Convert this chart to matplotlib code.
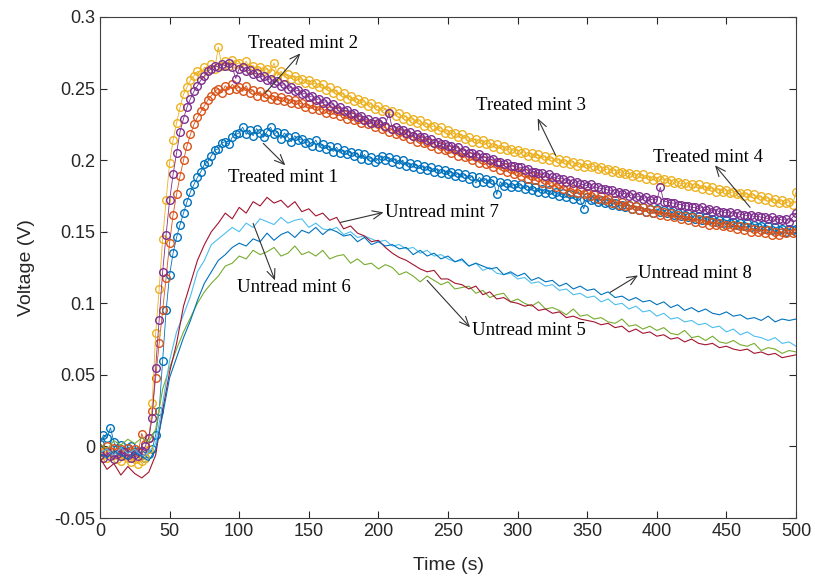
"""Treated vs untreated mint voltage response curves."""

import matplotlib

matplotlib.use("Agg")

import matplotlib.pyplot as plt
import numpy as np
from matplotlib import font_manager

# Treated samples every 2.5 s, untreated every 5 s.
time_treated = np.arange(0, 500.1, 2.5)
time_untreated = np.arange(0, 501, 5)

treated_1 = [
    0.002, 0.008, 0.006, 0.013, 0.003, -0.002, 0.001, -0.003, -0.001, 0.000,
    -0.004, -0.003, -0.006, -0.008, -0.005, -0.002, 0.008, 0.025, 0.060, 0.095,
    0.120, 0.135, 0.146, 0.155, 0.163, 0.171, 0.178, 0.183, 0.188, 0.192,
    0.197, 0.199, 0.203, 0.207, 0.208, 0.212, 0.213, 0.211, 0.216, 0.218,
    0.219, 0.223, 0.218, 0.221, 0.217, 0.222, 0.219, 0.216, 0.220, 0.223,
    0.218, 0.220, 0.215, 0.219, 0.216, 0.213, 0.217, 0.214, 0.215, 0.212,
    0.213, 0.210, 0.214, 0.209, 0.211, 0.208, 0.210, 0.206, 0.209, 0.205,
    0.207, 0.204, 0.206, 0.203, 0.205, 0.201, 0.204, 0.200, 0.202, 0.199,
    0.201, 0.203, 0.200, 0.202, 0.199, 0.201, 0.197, 0.200, 0.196, 0.198,
    0.195, 0.197, 0.194, 0.196, 0.193, 0.195, 0.192, 0.194, 0.191, 0.193,
    0.190, 0.192, 0.189, 0.191, 0.188, 0.190, 0.187, 0.189, 0.184, 0.188,
    0.185, 0.187, 0.184, 0.186, 0.176, 0.185, 0.182, 0.184, 0.181, 0.183,
    0.181, 0.183, 0.180, 0.182, 0.179, 0.181, 0.178, 0.180, 0.177, 0.179,
    0.176, 0.178, 0.175, 0.177, 0.174, 0.176, 0.173, 0.175, 0.172, 0.166,
    0.174, 0.172, 0.173, 0.171, 0.172, 0.170, 0.171, 0.169, 0.170, 0.168,
    0.169, 0.167, 0.169, 0.166, 0.168, 0.165, 0.167, 0.164, 0.166, 0.163,
    0.166, 0.164, 0.165, 0.163, 0.164, 0.162, 0.163, 0.161, 0.162, 0.160,
    0.161, 0.159, 0.161, 0.158, 0.160, 0.158, 0.159, 0.157, 0.158, 0.156,
    0.158, 0.156, 0.157, 0.155, 0.156, 0.154, 0.156, 0.153, 0.155, 0.153,
    0.154, 0.152, 0.154, 0.151, 0.153, 0.151, 0.152, 0.150, 0.152, 0.151,
    0.152,
]
treated_2 = [
    -0.002, -0.004, 0.000, -0.003, -0.001, -0.004, -0.002, -0.005, -0.001, -0.003,
    -0.002, -0.004, 0.009, 0.002, 0.006, 0.025, 0.048, 0.072, 0.095, 0.118,
    0.142, 0.162, 0.176, 0.189, 0.200, 0.210, 0.218, 0.225, 0.230, 0.234,
    0.238, 0.242, 0.245, 0.248, 0.250, 0.247, 0.252, 0.249, 0.253, 0.250,
    0.251, 0.248, 0.252, 0.247, 0.249, 0.245, 0.248, 0.244, 0.246, 0.243,
    0.245, 0.242, 0.244, 0.241, 0.243, 0.240, 0.242, 0.239, 0.240, 0.237,
    0.239, 0.236, 0.238, 0.235, 0.236, 0.233, 0.235, 0.232, 0.234, 0.231,
    0.232, 0.229, 0.231, 0.228, 0.229, 0.226, 0.228, 0.225, 0.226, 0.223,
    0.225, 0.222, 0.223, 0.220, 0.222, 0.218, 0.220, 0.217, 0.218, 0.215,
    0.217, 0.213, 0.215, 0.212, 0.213, 0.210, 0.212, 0.208, 0.210, 0.207,
    0.208, 0.205, 0.207, 0.203, 0.205, 0.202, 0.203, 0.200, 0.202, 0.198,
    0.200, 0.197, 0.198, 0.195, 0.197, 0.193, 0.195, 0.192, 0.194, 0.190,
    0.192, 0.189, 0.191, 0.187, 0.189, 0.186, 0.188, 0.184, 0.186, 0.183,
    0.185, 0.181, 0.183, 0.180, 0.182, 0.178, 0.180, 0.177, 0.179, 0.176,
    0.177, 0.175, 0.176, 0.173, 0.175, 0.172, 0.173, 0.170, 0.172, 0.169,
    0.171, 0.168, 0.169, 0.166, 0.168, 0.165, 0.167, 0.164, 0.166, 0.163,
    0.165, 0.162, 0.164, 0.161, 0.163, 0.160, 0.162, 0.159, 0.161, 0.158,
    0.160, 0.157, 0.159, 0.156, 0.158, 0.155, 0.157, 0.155, 0.156, 0.154,
    0.155, 0.153, 0.155, 0.152, 0.154, 0.151, 0.153, 0.150, 0.152, 0.150,
    0.151, 0.149, 0.151, 0.148, 0.150, 0.148, 0.150, 0.149, 0.151, 0.149,
    0.150,
]
treated_3 = [
    -0.004, -0.006, -0.008, -0.005, -0.006, -0.009, -0.010, -0.007, -0.008, -0.011,
    -0.009, -0.012, -0.010, -0.008, -0.002, 0.030, 0.079, 0.110, 0.145, 0.172,
    0.198, 0.214, 0.226, 0.237, 0.246, 0.251, 0.256, 0.259, 0.262, 0.260,
    0.265, 0.263, 0.267, 0.264, 0.279, 0.266, 0.269, 0.266, 0.270, 0.267,
    0.268, 0.265, 0.269, 0.264, 0.266, 0.263, 0.265, 0.262, 0.264, 0.261,
    0.268, 0.259, 0.262, 0.258, 0.260, 0.257, 0.259, 0.256, 0.257, 0.254,
    0.256, 0.253, 0.254, 0.251, 0.253, 0.249, 0.251, 0.247, 0.249, 0.245,
    0.247, 0.243, 0.245, 0.241, 0.243, 0.240, 0.241, 0.238, 0.240, 0.236,
    0.238, 0.234, 0.236, 0.233, 0.234, 0.231, 0.233, 0.229, 0.231, 0.227,
    0.229, 0.226, 0.228, 0.224, 0.226, 0.223, 0.224, 0.221, 0.223, 0.219,
    0.221, 0.218, 0.219, 0.216, 0.218, 0.215, 0.216, 0.213, 0.215, 0.212,
    0.214, 0.211, 0.212, 0.209, 0.211, 0.208, 0.210, 0.207, 0.208, 0.206,
    0.207, 0.205, 0.206, 0.203, 0.205, 0.202, 0.204, 0.201, 0.203, 0.200,
    0.202, 0.199, 0.201, 0.198, 0.200, 0.197, 0.199, 0.196, 0.198, 0.195,
    0.197, 0.195, 0.196, 0.194, 0.195, 0.193, 0.194, 0.192, 0.193, 0.191,
    0.192, 0.190, 0.191, 0.189, 0.190, 0.188, 0.190, 0.187, 0.189, 0.186,
    0.188, 0.186, 0.187, 0.185, 0.186, 0.184, 0.185, 0.183, 0.184, 0.182,
    0.183, 0.181, 0.183, 0.180, 0.182, 0.179, 0.181, 0.178, 0.180, 0.178,
    0.179, 0.177, 0.178, 0.176, 0.177, 0.175, 0.177, 0.174, 0.176, 0.173,
    0.175, 0.172, 0.174, 0.171, 0.173, 0.170, 0.172, 0.170, 0.171, 0.169,
    0.178,
]
treated_4 = [
    -0.006, -0.008, -0.004, -0.007, -0.009, -0.005, -0.007, -0.004, -0.006, -0.008,
    -0.005, -0.007, -0.003, 0.000, 0.006, 0.020, 0.055, 0.088, 0.122, 0.148,
    0.172, 0.190, 0.205, 0.220, 0.229, 0.237, 0.243, 0.248, 0.252, 0.256,
    0.259, 0.262, 0.264, 0.266, 0.265, 0.267, 0.266, 0.268, 0.265, 0.257,
    0.264, 0.265, 0.262, 0.263, 0.260, 0.261, 0.258, 0.259, 0.256, 0.257,
    0.254, 0.255, 0.252, 0.253, 0.250, 0.251, 0.248, 0.249, 0.246, 0.247,
    0.244, 0.245, 0.242, 0.243, 0.240, 0.241, 0.238, 0.239, 0.236, 0.237,
    0.234, 0.235, 0.232, 0.233, 0.230, 0.231, 0.228, 0.229, 0.226, 0.227,
    0.226, 0.227, 0.224, 0.233, 0.222, 0.223, 0.221, 0.221, 0.219, 0.220,
    0.217, 0.218, 0.216, 0.216, 0.214, 0.215, 0.212, 0.213, 0.211, 0.211,
    0.210, 0.210, 0.208, 0.209, 0.206, 0.207, 0.205, 0.205, 0.203, 0.204,
    0.202, 0.202, 0.200, 0.201, 0.199, 0.199, 0.197, 0.198, 0.196, 0.196,
    0.195, 0.195, 0.193, 0.194, 0.192, 0.192, 0.191, 0.191, 0.189, 0.190,
    0.188, 0.188, 0.187, 0.187, 0.185, 0.186, 0.184, 0.185, 0.183, 0.183,
    0.182, 0.183, 0.181, 0.181, 0.180, 0.180, 0.179, 0.179, 0.177, 0.178,
    0.176, 0.177, 0.175, 0.176, 0.174, 0.175, 0.173, 0.174, 0.172, 0.173,
    0.172, 0.181, 0.171, 0.171, 0.170, 0.170, 0.169, 0.169, 0.168, 0.168,
    0.167, 0.167, 0.166, 0.167, 0.165, 0.166, 0.164, 0.165, 0.164, 0.164,
    0.163, 0.164, 0.162, 0.163, 0.162, 0.162, 0.161, 0.162, 0.160, 0.161,
    0.160, 0.160, 0.159, 0.160, 0.158, 0.159, 0.158, 0.159, 0.157, 0.160,
    0.163,
]
untreated_5 = [
    0.002, -0.002, 0.004, 0.001, 0.005, 0.002, 0.006, 0.003, 0.012, 0.040,
    0.055, 0.068, 0.080, 0.090, 0.100, 0.108, 0.114, 0.119, 0.126, 0.128,
    0.133, 0.131, 0.137, 0.134, 0.136, 0.139, 0.133, 0.135, 0.140, 0.134,
    0.136, 0.133, 0.137, 0.131, 0.133, 0.134, 0.128, 0.131, 0.127, 0.128,
    0.124, 0.127, 0.125, 0.120, 0.122, 0.119, 0.115, 0.119, 0.116, 0.113,
    0.115, 0.110, 0.111, 0.112, 0.107, 0.109, 0.104, 0.106, 0.107, 0.101,
    0.103, 0.100, 0.098, 0.101, 0.096, 0.097, 0.095, 0.092, 0.096, 0.091,
    0.092, 0.089, 0.090, 0.087, 0.086, 0.089, 0.084, 0.085, 0.082, 0.084,
    0.081, 0.083, 0.079, 0.078, 0.081, 0.076, 0.077, 0.074, 0.077, 0.073,
    0.072, 0.074, 0.071, 0.070, 0.072, 0.067, 0.069, 0.068, 0.065, 0.067,
    0.066,
]
untreated_6 = [
    -0.004, -0.002, -0.006, -0.001, -0.005, -0.002, -0.007, -0.004, 0.002, 0.030,
    0.060, 0.080, 0.092, 0.105, 0.122, 0.130, 0.141, 0.145, 0.149, 0.153,
    0.150, 0.156, 0.153, 0.159, 0.157, 0.155, 0.160, 0.156, 0.158, 0.159,
    0.153, 0.156, 0.152, 0.151, 0.153, 0.148, 0.150, 0.146, 0.147, 0.145,
    0.143, 0.144, 0.140, 0.141, 0.138, 0.139, 0.135, 0.137, 0.133, 0.134,
    0.131, 0.129, 0.130, 0.126, 0.128, 0.123, 0.125, 0.121, 0.120, 0.121,
    0.117, 0.118, 0.114, 0.115, 0.112, 0.113, 0.109, 0.110, 0.106, 0.107,
    0.104, 0.105, 0.101, 0.103, 0.099, 0.100, 0.096, 0.098, 0.094, 0.095,
    0.091, 0.093, 0.089, 0.090, 0.087, 0.088, 0.085, 0.086, 0.083, 0.084,
    0.080, 0.082, 0.078, 0.080, 0.077, 0.076, 0.074, 0.076, 0.072, 0.073,
    0.070,
]
untreated_7 = [
    -0.008, -0.016, -0.012, -0.020, -0.014, -0.019, -0.022, -0.018, -0.006, 0.025,
    0.052, 0.072, 0.098, 0.114, 0.130, 0.141, 0.150, 0.156, 0.163, 0.159,
    0.167, 0.163, 0.171, 0.168, 0.174, 0.170, 0.172, 0.167, 0.171, 0.164,
    0.166, 0.161, 0.163, 0.158, 0.160, 0.152, 0.154, 0.149, 0.147, 0.143,
    0.144, 0.139, 0.135, 0.132, 0.130, 0.127, 0.124, 0.122, 0.123, 0.117,
    0.117, 0.114, 0.113, 0.110, 0.112, 0.106, 0.108, 0.103, 0.104, 0.101,
    0.100, 0.098, 0.099, 0.095, 0.096, 0.093, 0.094, 0.090, 0.091, 0.089,
    0.088, 0.087, 0.085, 0.086, 0.083, 0.084, 0.080, 0.082, 0.079, 0.080,
    0.077, 0.078, 0.075, 0.076, 0.073, 0.075, 0.072, 0.071, 0.072, 0.069,
    0.070, 0.068, 0.067, 0.068, 0.065, 0.066, 0.064, 0.065, 0.062, 0.063,
    0.064,
]
untreated_8 = [
    -0.005, -0.008, -0.003, -0.006, -0.009, -0.004, -0.007, -0.010, -0.002, 0.022,
    0.048, 0.062, 0.076, 0.088, 0.102, 0.114, 0.122, 0.130, 0.134, 0.139,
    0.142, 0.140, 0.145, 0.143, 0.149, 0.144, 0.148, 0.150, 0.146, 0.151,
    0.149, 0.153, 0.148, 0.152, 0.150, 0.147, 0.148, 0.143, 0.146, 0.141,
    0.143, 0.140, 0.141, 0.138, 0.139, 0.134, 0.137, 0.133, 0.135, 0.131,
    0.133, 0.129, 0.131, 0.126, 0.128, 0.126, 0.124, 0.125, 0.120, 0.122,
    0.119, 0.121, 0.116, 0.118, 0.115, 0.116, 0.112, 0.114, 0.110, 0.112,
    0.109, 0.110, 0.106, 0.108, 0.104, 0.105, 0.102, 0.104, 0.101, 0.102,
    0.099, 0.101, 0.097, 0.099, 0.095, 0.097, 0.094, 0.096, 0.093, 0.092,
    0.094, 0.091, 0.092, 0.089, 0.090, 0.088, 0.091, 0.087, 0.089, 0.088,
    0.089,
]

# MATLAB varsayılan renk sırası
COLORS = ["#0072BD", "#D95319", "#EDB120", "#7E2F8E",
          "#77AC30", "#4DBEEE", "#A2142F", "#0072BD"]

# (etiket, ok kuyruğu, ok başı, yazı konumu) – veri koordinatlarında
ANNOTATIONS = [
    ("Treated mint 2", (118.6, 0.2467), (143.9, 0.2746), (106.0, 0.2816)),
    ("Treated mint 1", (117.3, 0.2117), (133.1, 0.1964), (92.0, 0.1880)),
    ("Treated mint 3", (327.3, 0.2034), (314.4, 0.2292), (269.8, 0.2383)),
    ("Treated mint 4", (467.0, 0.1670), (441.8, 0.1964), (397.3, 0.2020)),
    ("Untread mint 7", (172.7, 0.1565), (203.7, 0.1635), (204.7, 0.1635)),
    ("Untread mint 8", (366.4, 0.1076), (386.5, 0.1195), (386.5, 0.1210)),
    ("Untread mint 5", (235.0, 0.1160), (265.8, 0.0832), (267.2, 0.0810)),
    ("Untread mint 6", (110.0, 0.1558), (125.7, 0.1160), (98.4, 0.1110)),
]

installed = {f.name for f in font_manager.fontManager.ttflist}
tick_family = "Liberation Sans Narrow" if "Liberation Sans Narrow" in installed else "Liberation Sans"
plt.rcParams["font.family"] = [tick_family, "DejaVu Sans"]

fig = plt.figure(figsize=(8.15, 5.78), dpi=100)
ax = fig.add_axes([0.1227, 0.1038, 0.8540, 0.8668])

for i, ys in enumerate([treated_1, treated_2, treated_3, treated_4]):
    ax.plot(time_treated, ys, color=COLORS[i], marker="o", markersize=5.5,
            markerfacecolor="none", markeredgewidth=1.0, linewidth=0.6)

for i, ys in enumerate([untreated_5, untreated_6, untreated_7, untreated_8]):
    ax.plot(time_untreated, ys, color=COLORS[4 + i], linewidth=0.8)

for label, tail, head, pos in ANNOTATIONS:
    ax.annotate("", xy=head, xytext=tail,
                arrowprops=dict(arrowstyle="->,head_length=0.7,head_width=0.3",
                                color="#333333", lw=0.8, shrinkA=0, shrinkB=0))
    ax.text(pos[0], pos[1], label, family="Liberation Serif", fontsize=13.5,
            va="center", ha="left")

ax.set_xlim(0, 500)
ax.set_ylim(-0.05, 0.3)
ax.set_xticks(np.arange(0, 501, 50))
ax.set_yticks(np.arange(-0.05, 0.301, 0.05))
ax.set_yticklabels(["-0.05", "0", "0.05", "0.1", "0.15", "0.2", "0.25", "0.3"])
ax.tick_params(direction="in", top=True, right=True, length=5, width=0.8,
               labelsize=13, colors="#262626")
for spine in ax.spines.values():
    spine.set_color("#404040")
    spine.set_linewidth(0.8)

ax.set_xlabel("Time (s)", fontsize=14, color="#262626", labelpad=12)
ax.set_ylabel("Voltage (V)", fontsize=14, color="#262626", labelpad=14)

fig.savefig("out.png", dpi=100)
